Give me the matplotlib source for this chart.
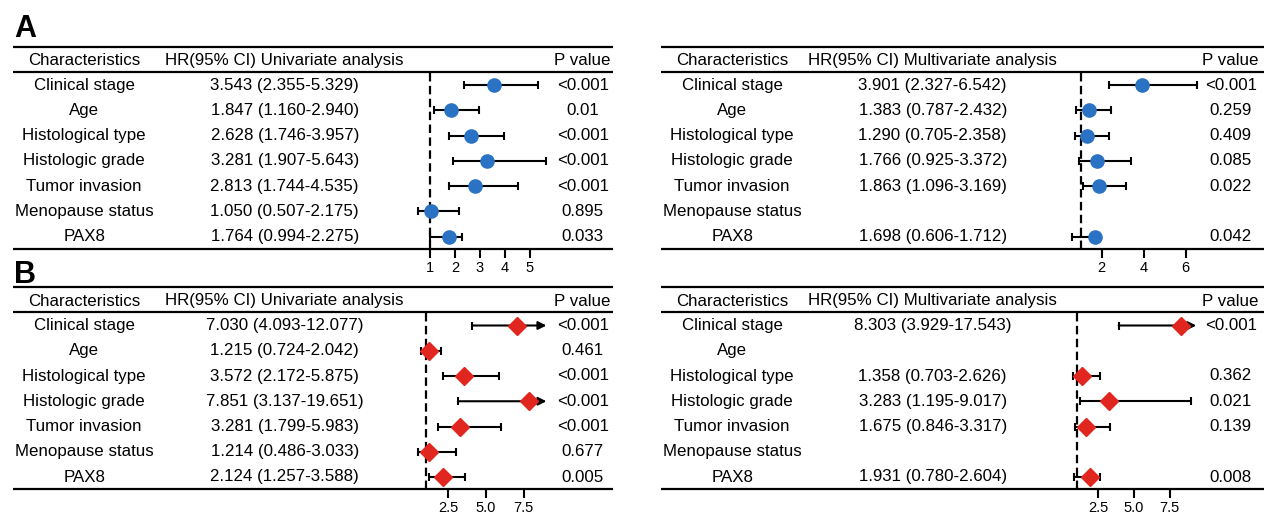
import matplotlib.pyplot as plt
import numpy as np

plt.rcParams['font.family'] = ['Liberation Sans', 'DejaVu Sans']

W, H = 1264, 517

characteristics = ["Clinical stage", "Age", "Histological type", "Histologic grade",
                   "Tumor invasion", "Menopause status", "PAX8"]

# panel A, univariate
a_uni_hr = [3.543, 1.847, 2.628, 3.281, 2.813, 1.050, 1.764]
a_uni_lo = [2.355, 1.160, 1.746, 1.907, 1.744, 0.507, 0.994]
a_uni_hi = [5.329, 2.940, 3.957, 5.643, 4.535, 2.175, 2.275]
a_uni_p = ["<0.001", "0.01", "<0.001", "<0.001", "<0.001", "0.895", "0.033"]

# panel A, multivariate
a_multi_hr = [3.901, 1.383, 1.290, 1.766, 1.863, None, 1.698]
a_multi_lo = [2.327, 0.787, 0.705, 0.925, 1.096, None, 0.606]
a_multi_hi = [6.542, 2.432, 2.358, 3.372, 3.169, None, 1.712]
a_multi_p = ["<0.001", "0.259", "0.409", "0.085", "0.022", "", "0.042"]

# panel B, univariate
b_uni_hr = [7.030, 1.215, 3.572, 7.851, 3.281, 1.214, 2.124]
b_uni_lo = [4.093, 0.724, 2.172, 3.137, 1.799, 0.486, 1.257]
b_uni_hi = [12.077, 2.042, 5.875, 19.651, 5.983, 3.033, 3.588]
b_uni_p = ["<0.001", "0.461", "<0.001", "<0.001", "<0.001", "0.677", "0.005"]

# panel B, multivariate
b_multi_hr = [8.303, None, 1.358, 3.283, 1.675, None, 1.931]
b_multi_lo = [3.929, None, 0.703, 1.195, 0.846, None, 0.780]
b_multi_hi = [17.543, None, 2.626, 9.017, 3.317, None, 2.604]
b_multi_p = ["<0.001", "", "0.362", "0.021", "0.139", "", "0.008"]

a_uni_ticks = [1, 2, 3, 4, 5]
a_multi_ticks = [2, 4, 6]
b_ticks = [2.5, 5.0, 7.5]

BLUE = "#2a72c3"
RED = "#e0261f"
FS = 12.2


def px_axes(fig, x0, y0, x1, y1):
    return fig.add_axes([x0 / W, 1 - y1 / H, (x1 - x0) / W, (y1 - y0) / H])


def draw_panel(fig, x0, ytop, label, hr, lo, hi, pvals, fx, origin, ppu, ticks,
               ticklabels, color, marker, ms, clip=None, line_end=600):
    # table part, pixel coordinates
    tab = px_axes(fig, x0, ytop - 5, x0 + 610, ytop + 215)
    tab.set_xlim(0, 610)
    tab.set_ylim(ytop + 215, ytop - 5)
    tab.axis("off")
    head_y = ytop + 14
    rows = ytop + 38.5 + 25.25 * np.arange(len(characteristics))
    for yy in (ytop, ytop + 25, ytop + 202):
        tab.plot([0, line_end], [yy, yy], color="black", lw=1.6, clip_on=False,
                 solid_capstyle="butt")
    tab.text(71.5, head_y, "Characteristics", ha="center", va="center", fontsize=FS)
    tab.text(272, head_y, "HR(95% CI) " + label, ha="center", va="center", fontsize=FS)
    tab.text(570, head_y, "P value", ha="center", va="center", fontsize=FS)
    for i, name in enumerate(characteristics):
        tab.text(71.5, rows[i], name, ha="center", va="center", fontsize=FS)
        if hr[i] is None:
            continue
        tab.text(272, rows[i], f"{hr[i]:.3f} ({lo[i]:.3f}-{hi[i]:.3f})",
                 ha="center", va="center", fontsize=FS)
        tab.text(570, rows[i], pvals[i], ha="center", va="center", fontsize=FS)

    # forest part, hazard ratio on x
    ax = px_axes(fig, fx[0], ytop + 25, fx[1], ytop + 202)
    ax.patch.set_visible(False)
    ax.set_xlim(1 + (fx[0] - origin) / ppu, 1 + (fx[1] - origin) / ppu)
    ax.set_ylim(ytop + 202, ytop + 25)
    ax.axvline(1, color="black", lw=1.6, dashes=(3.8, 2), zorder=1)
    for i in range(len(characteristics)):
        if hr[i] is None:
            continue
        y = rows[i]
        if clip is not None and hi[i] > clip:
            ax.plot([lo[i]], [y], marker="|", ms=6, mew=1.5, color="black")
            ax.annotate("", xy=(clip, y), xytext=(lo[i], y),
                        arrowprops=dict(arrowstyle="-|>", color="black", lw=1.5,
                                        shrinkA=0, shrinkB=0, mutation_scale=12))
        else:
            ax.errorbar(hr[i], y, xerr=[[hr[i] - lo[i]], [hi[i] - hr[i]]], fmt="none",
                        ecolor="black", elinewidth=1.5, capsize=3, capthick=1.5,
                        zorder=2)
        ax.plot(hr[i], y, marker=marker, ms=ms, color=color, mec=color, zorder=4,
                clip_on=False)
    ax.set_xticks(ticks)
    ax.set_xticklabels(ticklabels)
    ax.set_yticks([])
    for s in ax.spines.values():
        s.set_visible(False)
    ax.tick_params(axis="x", direction="out", length=6.5, width=1.5, pad=2.5,
                   labelsize=10.5)
    return ax


fig = plt.figure(figsize=(W / 100, H / 100), dpi=100)

draw_panel(fig, 12.7, 46.5, "Univariate analysis", a_uni_hr, a_uni_lo, a_uni_hi, a_uni_p,
           (405, 560), 430, 25, a_uni_ticks, [str(t) for t in a_uni_ticks], BLUE, "o", 9.5)
draw_panel(fig, 660.7, 46.5, "Multivariate analysis", a_multi_hr, a_multi_lo, a_multi_hi,
           a_multi_p, (1060, 1205), 1080.7, 21, a_multi_ticks,
           [str(t) for t in a_multi_ticks], BLUE, "o", 9.5, line_end=610)
draw_panel(fig, 12.7, 287, "Univariate analysis", b_uni_hr, b_uni_lo, b_uni_hi, b_uni_p,
           (405, 560), 425.6, 15.1, b_ticks, [f"{t:.1f}" for t in b_ticks], RED, "D", 9,
           clip=9.0)
draw_panel(fig, 660.7, 287, "Multivariate analysis", b_multi_hr, b_multi_lo, b_multi_hi,
           b_multi_p, (1060, 1205), 1076.8, 14.3, b_ticks, [f"{t:.1f}" for t in b_ticks],
           RED, "D", 9, clip=9.35, line_end=610)

fig.text(14 / W, 1 - 37 / H, "A", fontsize=22, fontweight="bold", va="baseline")
fig.text(14 / W, 1 - 283 / H, "B", fontsize=22, fontweight="bold", va="baseline")

fig.savefig("out.png", dpi=100)
